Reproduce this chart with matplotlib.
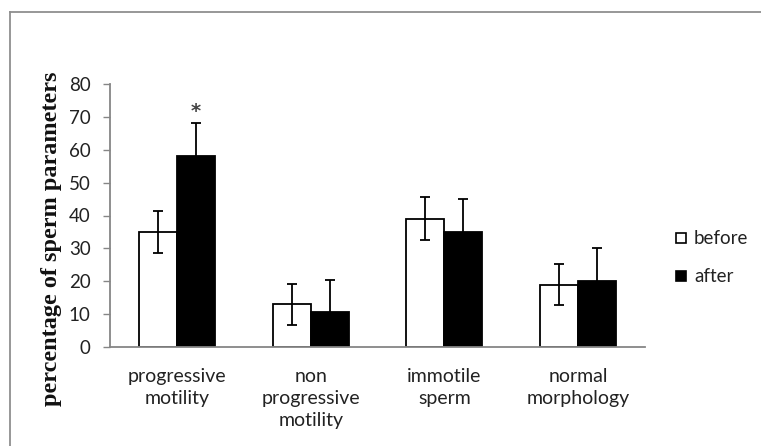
import matplotlib
matplotlib.use("Agg")
import matplotlib.pyplot as plt
from matplotlib.lines import Line2D
from matplotlib.patches import Rectangle
import numpy as np

categories = ["progressive\nmotility", "non\nprogressive\nmotility", "immotile\nsperm", "normal\nmorphology"]
before = [35, 13, 39, 19]
after = [58, 10.5, 35, 20]
before_err = [6.3, 6.3, 6.5, 6.3]
after_err = [10, 10, 10, 10]
yticks = [0, 10, 20, 30, 40, 50, 60, 70, 80]
series_names = ["before", "after"]

W, H = 761, 446
fig = plt.figure(figsize=(W / 100, H / 100), dpi=100)
fig.patch.set_facecolor("white")
ax = fig.add_axes([110 / W, 1 - 347 / H, (645 - 110) / W, (347 - 84) / H])

x = np.arange(len(categories))
bw = 0.285
gray = "#868686"
ax.bar(x - bw / 2, before, bw, color="white", edgecolor="black", linewidth=1.3, zorder=2)
ax.bar(x + bw / 2, after, bw, color="black", edgecolor="black", linewidth=1.3, zorder=2)
ax.errorbar(x - bw / 2, before, yerr=before_err, fmt="none", ecolor="black",
            elinewidth=1.3, capsize=3.5, capthick=1.3, zorder=3)
ax.errorbar(x + bw / 2, after, yerr=after_err, fmt="none", ecolor="black",
            elinewidth=1.3, capsize=3.5, capthick=1.3, zorder=3)
ax.text(x[0] + bw / 2, 71.5, "*", ha="center", va="center", fontsize=14,
        fontweight="bold", color="#444444", family="DejaVu Sans")

ax.set_xlim(-0.5, len(categories) - 0.5)
ax.set_ylim(0, 80)
ax.set_yticks(yticks)
ax.set_yticklabels([str(t) for t in yticks], family="Lato", fontsize=13.5, color="#222222")
ax.set_xticks(x)
ax.set_xticklabels(categories, family="Lato", fontsize=14, color="#222222")
for lab in ax.get_xticklabels():
    lab.set_linespacing(1.38)
ax.tick_params(axis="x", length=0, pad=15)
ax.tick_params(axis="y", length=5, width=1, color=gray, pad=9)
for s in ["top", "right"]:
    ax.spines[s].set_visible(False)
for s in ["left", "bottom"]:
    ax.spines[s].set_color(gray)
    ax.spines[s].set_linewidth(1.3)
ax.set_facecolor("none")

fig.text(52 / W, 1 - 239 / H, "percentage of sperm parameters", rotation=90,
         ha="center", va="center", family="Liberation Serif", fontweight="bold",
         fontsize=17.5, color="#111111")

# legend
for i, (name, fc) in enumerate(zip(series_names, ["white", "black"])):
    yc = [238, 276][i]
    fig.patches.append(Rectangle((676 / W, 1 - (yc + 5) / H), 10 / W, 10 / H,
                                 transform=fig.transFigure, facecolor=fc,
                                 edgecolor="black", linewidth=1.2))
    fig.text(694 / W, 1 - yc / H, name, ha="left", va="center", family="Lato",
             fontsize=13.5, color="#222222")

# chart area border
bc = "#8f8f8f"
fig.lines.append(Line2D([9.5 / W, 9.5 / W], [0, 1 - 12 / H], transform=fig.transFigure,
                        color=bc, linewidth=1.3))
fig.lines.append(Line2D([9.5 / W, 1], [1 - 12 / H, 1 - 12 / H], transform=fig.transFigure,
                        color=bc, linewidth=1.3))

fig.savefig("out.png", dpi=100)
